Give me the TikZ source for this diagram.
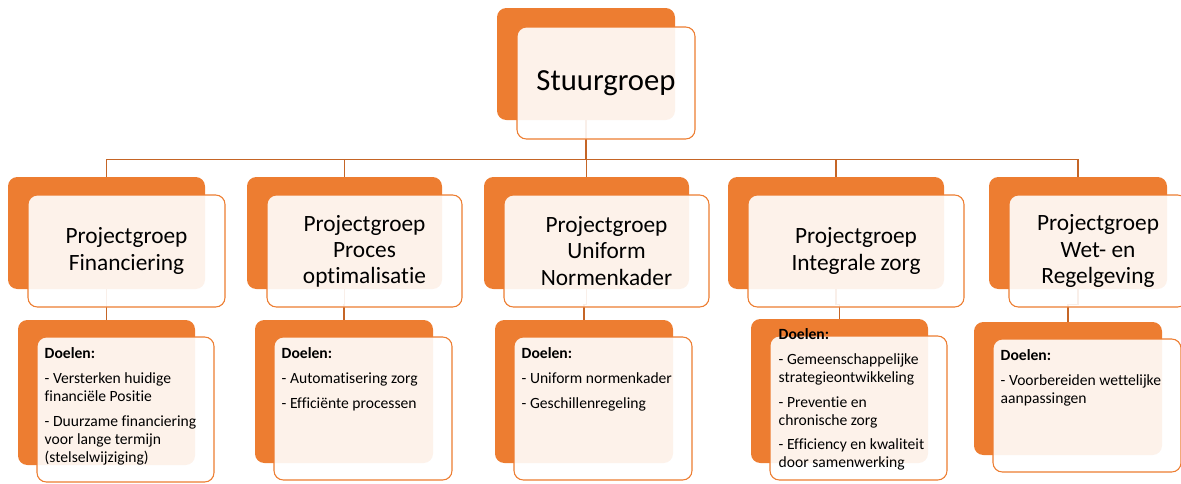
\documentclass[tikz,border=0pt]{standalone}
\usepackage{fontspec}
\setmainfont{Carlito}[Ligatures=NoCommon]
\usetikzlibrary{positioning}
\definecolor{boxorange}{RGB}{237,125,49}
\definecolor{lineorange}{RGB}{197,101,38}
\tikzset{
  sz/.style 2 args={minimum width=#1*0.75pt, minimum height=#2*0.75pt},
  back/.style={fill=boxorange, rounded corners=7pt, inner sep=0pt},
  front/.style={draw=boxorange, line width=0.8pt, fill=white,
                fill opacity=0.9, text opacity=1, rounded corners=7pt,
                inner sep=0pt, align=center},
  conn/.style={lineorange, line width=1.1pt},
  toplab/.style={font=\fontsize{23}{28}\selectfont},
  grouplab/.style={font=\fontsize{17.5}{19.6}\selectfont},
  goals/.style={font=\fontsize{11.7}{13.5}\selectfont, align=left,
                inner sep=0pt, anchor=north west},
}
\begin{document}
\begin{tikzpicture}[x=0.75pt,y=-0.75pt]
  \clip (0,0) rectangle (1181,483);

  % back plates
  \node[back, sz={178}{112}] (stuur-b) at (586,64) {};
  \foreach \nm/\xx/\ww in {fin/106.5/197, proc/344.5/195, norm/586.5/205,
                           zorg/836/216, wet/1078/178}{
    \node[back, sz={\ww}{112}] (\nm-b) at (\xx,233) {};
  }
  \node[back, sz={177}{145}] (fin-d-b)  at (106.5,392.5) {};
  \node[back, sz={178}{143}] (proc-d-b) at (344,391.5) {};
  \node[back, sz={178}{143}] (norm-d-b) at (584,391.5) {};
  \node[back, sz={177}{144}] (zorg-d-b) at (839.5,391) {};
  \node[back, sz={188}{133}] (wet-d-b)  at (1068,388.5) {};

  % connectors
  \draw[conn] (stuur-b.south) -- ++(0,39) coordinate (bar);
  \foreach \nm in {fin,proc,norm,zorg,wet}{
    \draw[conn] (bar) -| (\nm-b.north);
    \draw[conn] (\nm-b.south) -- ++(0,15) -| (\nm-d-b.north);
  }

  % front plates
  \node[front, toplab, sz={178}{112}] (stuur) at ([shift={(20,19)}]stuur-b.center)
    {Stuurgroep};
  \foreach \nm/\ww/\txt in {fin/197/{Projectgroep\\Financiering},
                            proc/195/{Projectgroep\\Proces\\optimalisatie},
                            norm/205/{Projectgroep\\Uniform\\Normenkader},
                            zorg/216/{Projectgroep\\Integrale zorg},
                            wet/178/{Projectgroep\\Wet- en\\Regelgeving}}{
    \node[front, grouplab, sz={\ww}{112}] (\nm) at ([shift={(20,18)}]\nm-b.center) {\txt};
  }
  \node[front, sz={177}{145}] (fin-d)  at ([shift={(19,17)}]fin-d-b.center) {};
  \node[front, sz={178}{143}] (proc-d) at ([shift={(19,17)}]proc-d-b.center) {};
  \node[front, sz={178}{143}] (norm-d) at ([shift={(19,17)}]norm-d-b.center) {};
  \node[front, sz={177}{144}] (zorg-d) at ([shift={(19,17)}]zorg-d-b.center) {};
  \node[front, sz={188}{133}] (wet-d)  at ([shift={(19,17)}]wet-d-b.center) {};

  % goals
  \node[goals] (fin-t) at ([shift={(8,11)}]fin-d.north west)
    {\textbf{Doelen:}\\[5pt]
     - Versterken huidige\\financiële Positie\\[5pt]
     - Duurzame financiering\\voor lange termijn\\(stelselwijziging)};
  \node[goals] (proc-t) at ([shift={(8,11)}]proc-d.north west)
    {\textbf{Doelen:}\\[5pt]
     - Automatisering zorg\\[5pt]
     - Efficiënte processen};
  \node[goals] (norm-t) at ([shift={(8,11)}]norm-d.north west)
    {\textbf{Doelen:}\\[5pt]
     - Uniform normenkader\\[5pt]
     - Geschillenregeling};
  \node[goals] (zorg-t) at ([shift={(9,-7)}]zorg-d.north west)
    {\textbf{Doelen:}\\[5pt]
     - Gemeenschappelijke\\strategieontwikkeling\\[5pt]
     - Preventie en\\chronische zorg\\[5pt]
     - Efficiency en kwaliteit\\door samenwerking};
  \node[goals] (wet-t) at ([shift={(8,11)}]wet-d.north west)
    {\textbf{Doelen:}\\[5pt]
     - Voorbereiden wettelijke\\aanpassingen};
\end{tikzpicture}
\end{document}
